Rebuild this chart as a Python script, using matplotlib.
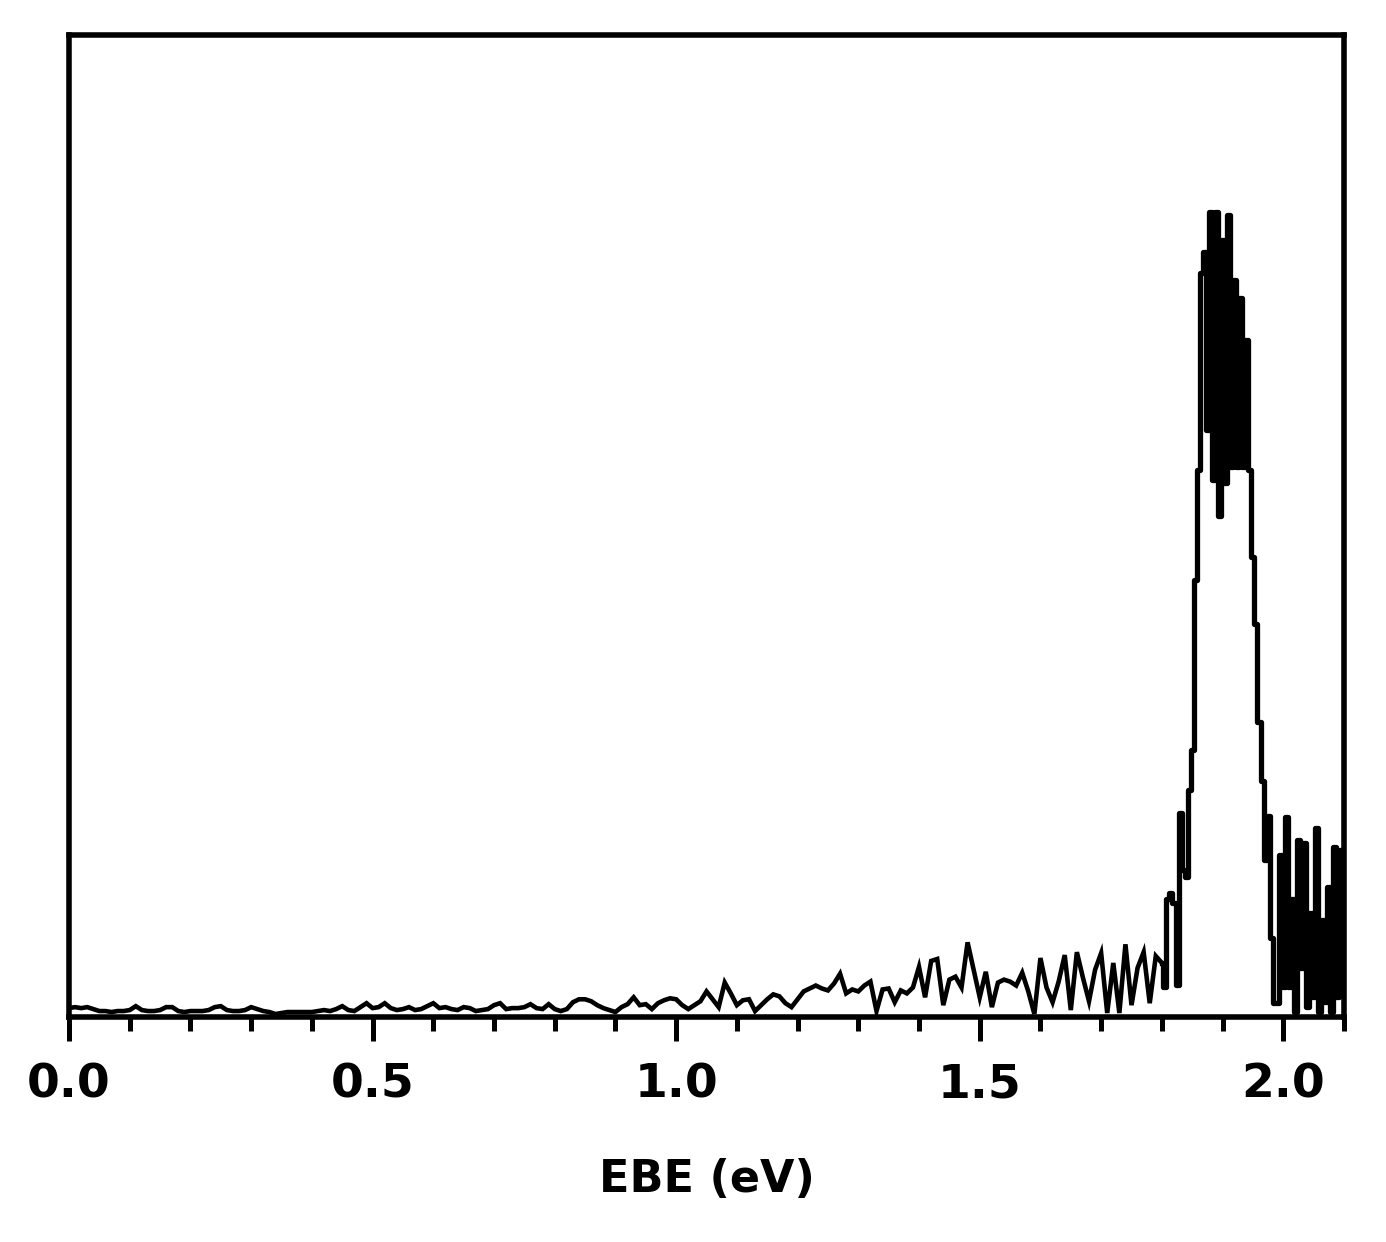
import numpy as np
import matplotlib
matplotlib.use("Agg")
import matplotlib.pyplot as plt
from matplotlib.ticker import MultipleLocator

# Photoelectron spectrum: electron binding energy (eV) vs intensity (arb. units)
ebe_low_start, ebe_low_step, ebe_low_n = 0.0, 0.01, 180
intensity_low = [
    0.9, 1.0, 0.9, 1.0, 0.8, 0.6, 0.6, 0.5, 0.6, 0.6,
    0.7, 1.1, 0.7, 0.6, 0.6, 0.7, 1.0, 1.0, 0.6, 0.5,
    0.6, 0.6, 0.6, 0.7, 1.0, 1.1, 0.7, 0.6, 0.6, 0.7,
    1.0, 0.8, 0.6, 0.5, 0.3, 0.4, 0.5, 0.5, 0.5, 0.5,
    0.5, 0.6, 0.7, 0.6, 0.8, 1.1, 0.7, 0.6, 1.0, 1.4,
    0.9, 1.0, 1.4, 0.9, 0.7, 0.8, 1.0, 0.7, 0.8, 1.1,
    1.4, 0.9, 1.0, 0.8, 0.7, 1.0, 0.9, 0.6, 0.7, 0.8,
    1.2, 1.4, 0.8, 0.9, 0.9, 1.0, 1.3, 0.9, 0.8, 1.3,
    0.8, 0.6, 0.8, 1.5, 1.8, 1.8, 1.6, 1.2, 0.9, 0.7,
    0.5, 1.0, 1.3, 2.0, 1.2, 1.3, 0.8, 1.4, 1.7, 1.9,
    1.8, 1.2, 0.8, 1.2, 1.6, 2.6, 1.8, 1.0, 3.5, 2.4,
    1.2, 1.7, 1.8, 0.6, 1.2, 1.8, 2.3, 2.1, 1.4, 1.0,
    1.8, 2.6, 2.9, 3.2, 2.9, 2.7, 3.4, 4.4, 2.4, 2.8,
    2.6, 3.2, 3.6, 0.6, 2.8, 2.9, 1.5, 2.7, 2.4, 3.0,
    5.1, 2.0, 5.7, 5.9, 1.2, 3.8, 4.1, 3.0, 7.6, 4.8,
    2.0, 4.6, 1.0, 3.5, 3.8, 3.6, 3.2, 4.5, 2.6, 0.3,
    6.0, 3.0, 1.5, 3.6, 6.3, 0.7, 6.6, 4.0, 1.6, 4.8,
    6.5, 0.4, 5.5, 0.4, 7.4, 1.2, 5.0, 6.6, 1.4, 6.2,
]
ebe_peak_start, ebe_peak_step, ebe_peak_n = 1.80, 0.005, 61
intensity_peak = [
    5.5, 3.0, 12.0, 12.6, 11.6, 3.3, 20.8, 15.0, 14.3, 23.1,
    27.2, 44.5, 55.7, 75.8, 77.9, 59.8, 82.0, 54.7, 82.0, 51.0,
    79.1, 54.4, 81.7, 56.0, 75.1, 56.0, 73.2, 56.0, 68.9, 55.7,
    46.8, 40.0, 30.0, 24.0, 16.0, 20.5, 8.0, 1.4, 1.4, 16.5,
    3.1, 20.4, 3.1, 12.0, 0.5, 18.0, 5.0, 17.7, 1.0, 10.6,
    2.0, 19.2, 0.5, 9.9, 1.5, 13.2, 0.5, 17.3, 2.0, 17.0,
    15.0,
]
x_ticks = [0.0, 0.5, 1.0, 1.5, 2.0]
x_ticklabels = ["0.0", "0.5", "1.0", "1.5", "2.0"]
x_label = "EBE (eV)"

ebe_low = ebe_low_start + ebe_low_step * np.arange(ebe_low_n)
ebe_peak = ebe_peak_start + ebe_peak_step * np.arange(ebe_peak_n)

plt.rcParams['font.family'] = ['DejaVu Sans']
fig = plt.figure(figsize=(13.86, 12.42), dpi=100)
ax = fig.add_axes([0.0498, 0.1812, 0.9199, 0.7906])

x1 = np.append(ebe_low, ebe_peak[0])
y1 = np.append(intensity_low, intensity_peak[0])
ax.plot(x1, y1, color='black', lw=3.3, solid_joinstyle='miter')
ax.plot(ebe_peak, intensity_peak, color='black', lw=3.8, drawstyle='steps-mid')

ax.set_xlim(0, 2.1)
ax.set_ylim(0, 100)
ax.set_yticks([])
ax.set_xticks(x_ticks)
ax.set_xticklabels(x_ticklabels, fontsize=34, fontweight='bold')
ax.xaxis.set_minor_locator(MultipleLocator(0.1))
ax.tick_params(axis='x', which='major', direction='out', length=17, width=3.6, pad=16)
ax.tick_params(axis='x', which='minor', direction='out', length=10, width=3.6)
for s in ax.spines.values():
    s.set_linewidth(4)
ax.set_xlabel(x_label, fontsize=32, fontweight='bold', labelpad=36)

fig.savefig("out.png", dpi=100)
